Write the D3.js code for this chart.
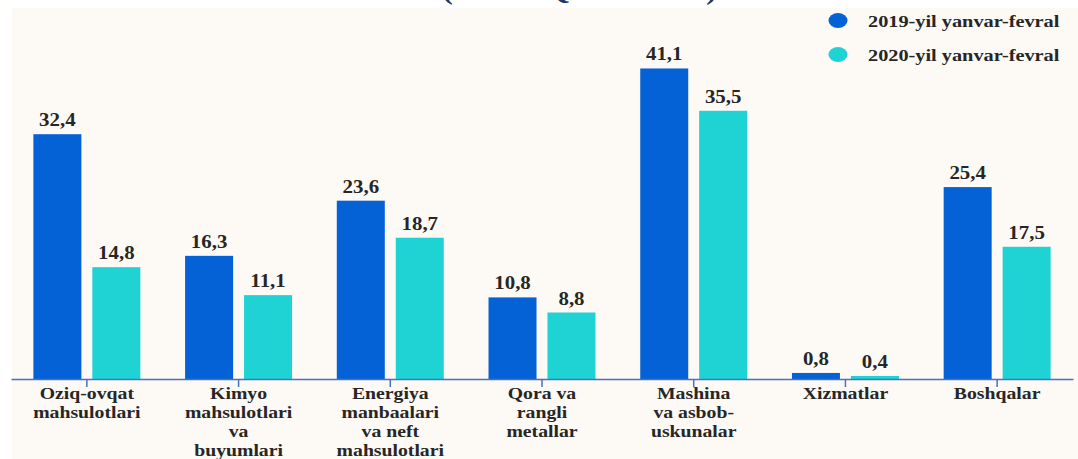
<!DOCTYPE html>
<html>
<head>
<meta charset="utf-8">
<script src="https://cdn.jsdelivr.net/npm/d3@7"></script>
<style>
  body { margin: 0; background: #ffffff; }
  svg { display: block; }
  text { font-family: "Liberation Serif", "Times New Roman", serif; font-weight: bold; }
</style>
</head>
<body>
<div id="chart"></div>
<script>
// category labels, one entry per line of the wrapped label
const categories = [
    ["Oziq-ovqat", "mahsulotlari"],
    ["Kimyo", "mahsulotlari", "va", "buyumlari"],
    ["Energiya", "manbaalari", "va neft", "mahsulotlari"],
    ["Qora va", "rangli", "metallar"],
    ["Mashina", "va asbob-", "uskunalar"],
    ["Xizmatlar"],
    ["Boshqalar"]
];
const seriesNames = ["2019-yil yanvar-fevral", "2020-yil yanvar-fevral"];
const values2019 = [32.4, 16.3, 23.6, 10.8, 41.1, 0.8, 25.4];
const values2020 = [14.8, 11.1, 18.7, 8.8, 35.5, 0.4, 17.5];
const unitTitle = "(mln. AQSh dollari)";

const width = 1078, height = 459;
const baseline = 379;
const colors = ["#0562d6", "#1fd3d5"];
const textColor = "#262626";
const stretch = 1.16; // the source text is drawn a bit wider than normal

const keys = categories.map((d) => d.join(" "));
const data = keys.map((k, i) => ({ key: k, lines: categories[i], values: [values2019[i], values2020[i]] }));

const svg = d3.select("#chart").append("svg")
    .attr("width", width)
    .attr("height", height);

// cream panel, leaving a thin white margin on top and left
svg.append("rect")
    .attr("x", 12).attr("y", 8)
    .attr("width", width - 12).attr("height", height - 8)
    .attr("fill", "#fdf9f4");

// title that is cut off at the top edge, only its descenders show
svg.append("text")
    .attr("transform", `translate(442, -1) scale(${stretch}, 1)`)
    .attr("font-size", 28)
    .attr("fill", "#1f3864")
    .text(unitTitle);

const x0 = d3.scaleBand()
    .domain(keys)
    .range([11, 1073])
    .paddingInner(0.295)
    .paddingOuter(0.1475);

const x1 = d3.scaleBand()
    .domain(seriesNames)
    .range([0, x0.bandwidth()])
    .paddingInner(0.186);

// bars are not quite proportional in the source, this is a best fit
const y = d3.scaleLinear()
    .domain([0, 45])
    .range([baseline, 39]);

const groups = svg.append("g")
    .selectAll("g")
    .data(data)
    .join("g")
    .attr("transform", (d) => `translate(${x0(d.key)}, 0)`);

const bars = groups.selectAll("g")
    .data((d) => d.values.map((v, i) => ({ series: seriesNames[i], value: v, idx: i })))
    .join("g");

bars.append("rect")
    .attr("x", (d) => x1(d.series))
    .attr("y", (d) => y(d.value))
    .attr("width", x1.bandwidth())
    .attr("height", (d) => baseline - y(d.value))
    .attr("fill", (d) => colors[d.idx]);

bars.append("text")
    .attr("transform", (d) => `translate(${x1(d.series) + x1.bandwidth() / 2}, ${y(d.value) - 8}) scale(${stretch}, 1)`)
    .attr("text-anchor", "middle")
    .attr("font-size", 18)
    .attr("fill", textColor)
    .text((d) => d3.format(".1f")(d.value).replace(".", ","));

// x axis with multi-line labels
const axis = svg.append("g")
    .attr("transform", `translate(0, ${baseline})`)
    .call(d3.axisBottom(x0).tickSize(8).tickSizeOuter(0).tickFormat(""));

axis.select(".domain").attr("stroke", "#4472c4").attr("stroke-width", 1.5);
axis.selectAll(".tick line").attr("stroke", "#4472c4").attr("stroke-width", 1.5);

axis.selectAll(".tick").each(function (k, i) {
    const tick = d3.select(this);
    categories[i].forEach((line, j) => {
        tick.append("text")
            .attr("transform", `translate(0, ${20 + j * 19}) scale(${stretch}, 1)`)
            .attr("text-anchor", "middle")
            .attr("font-size", 17)
            .attr("fill", textColor)
            .text(line);
    });
});

// legend
const legend = svg.append("g")
    .selectAll("g")
    .data(seriesNames)
    .join("g")
    .attr("transform", (d, i) => `translate(838, ${20.5 + i * 34})`);

legend.append("ellipse")
    .attr("rx", 9.5)
    .attr("ry", 7.5)
    .attr("fill", (d, i) => colors[i]);

legend.append("text")
    .attr("transform", `translate(30, 6.5) scale(${stretch}, 1)`)
    .attr("font-size", 17.5)
    .attr("fill", textColor)
    .text((d) => d);
</script>
</body>
</html>
